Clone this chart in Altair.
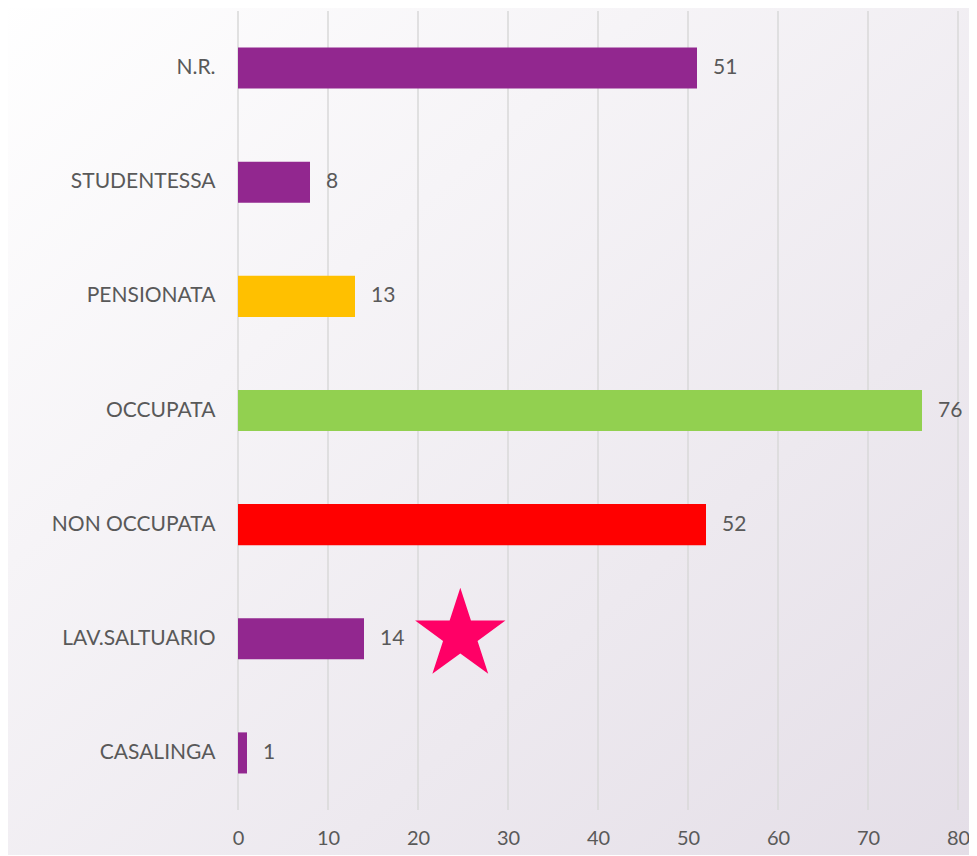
import altair as alt
import pandas as pd

categories = ["N.R.", "STUDENTESSA", "PENSIONATA", "OCCUPATA", "NON OCCUPATA", "LAV.SALTUARIO", "CASALINGA"]
values = [51, 8, 13, 76, 52, 14, 1]
colors = ["#92278F", "#92278F", "#FFC000", "#92D050", "#FF0000", "#92278F", "#92278F"]
x_ticks = [0, 10, 20, 30, 40, 50, 60, 70, 80]
star_category = ["LAV.SALTUARIO"]
star_value = [24.7]

df = pd.DataFrame({"cat": categories, "val": values, "col": colors})
star_df = pd.DataFrame({"cat": star_category, "val": star_value})
tick_df = pd.DataFrame({"t": x_ticks})
bg_df = pd.DataFrame({"a": [0]})

FONT = "Lato"
TXT = "#595959"
STAR_PATH = ("M0,-1L0.2245,-0.309L0.9511,-0.309L0.3633,0.118L0.5878,0.809L0,0.382"
             "L-0.5878,0.809L-0.3633,0.118L-0.9511,-0.309L-0.2245,-0.309Z")

x_scale = alt.Scale(domain=[0, 80], nice=False)
y_scale = alt.Scale(paddingInner=0.64, paddingOuter=0.32)

x_axis = alt.Axis(title=None, values=x_ticks, domain=False, ticks=False, grid=False,
                  labelFlush=False, labelPadding=18, labelFont=FONT, labelFontSize=20,
                  labelColor=TXT, zindex=1)
y_axis = alt.Axis(title=None, domain=False, ticks=False, grid=False,
                  labelPadding=23, labelFont=FONT, labelFontSize=21,
                  labelColor=TXT, zindex=1)

bg = alt.Chart(bg_df).mark_rect(
    fill=alt.Gradient(gradient="linear",
                      stops=[alt.GradientStop(color="#ffffff", offset=0),
                             alt.GradientStop(color="#e4dee7", offset=1)],
                      x1=0, y1=0, x2=1, y2=1),
    opacity=1,
).encode(x=alt.value(-240), x2=alt.value(737), y=alt.value(-11), y2=alt.value(845))

grid = alt.Chart(tick_df).mark_rule(color="#d9d9d9", strokeWidth=1.5).encode(
    x=alt.X("t:Q", scale=x_scale, axis=x_axis),
)

bars = alt.Chart(df).mark_bar().encode(
    y=alt.Y("cat:N", sort=categories, scale=y_scale, axis=y_axis),
    x=alt.X("val:Q", scale=x_scale, axis=x_axis),
    color=alt.Color("col:N", scale=None),
)

labels = alt.Chart(df).mark_text(align="left", baseline="middle", dx=16,
                                 font=FONT, fontSize=21, color=TXT).encode(
    y=alt.Y("cat:N", sort=categories, scale=y_scale, axis=y_axis),
    x=alt.X("val:Q", scale=x_scale, axis=x_axis),
    text="val:Q",
)

star = alt.Chart(star_df).mark_point(shape=STAR_PATH, filled=True, size=9025,
                                     color="#FF0066", opacity=1, yOffset=-3.5).encode(
    y=alt.Y("cat:N", sort=categories, scale=y_scale, axis=y_axis),
    x=alt.X("val:Q", scale=x_scale, axis=x_axis),
)

chart = alt.layer(bg, grid, bars, labels, star).properties(
    width=720, height=799,
    autosize=alt.AutoSizeParams(type="none"),
    padding={"left": 230, "top": 3, "right": 11, "bottom": 45},
).configure_view(stroke=None)

chart.save("out.html", embed_options={"renderer": "svg", "actions": False})
